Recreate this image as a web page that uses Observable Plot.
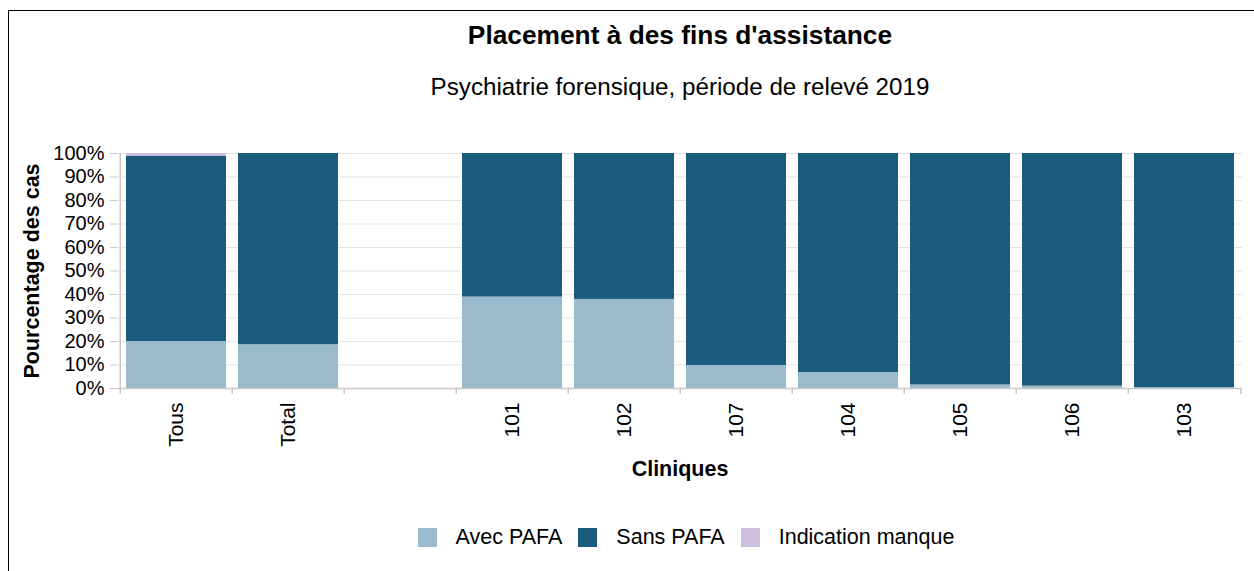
<!DOCTYPE html>
<html>
<head>
<meta charset="utf-8">
<script src="https://cdn.jsdelivr.net/npm/d3@7"></script>
<script src="https://cdn.jsdelivr.net/npm/@observablehq/plot@0.6"></script>
<style>
  html, body { margin: 0; padding: 0; background: #fff; overflow: hidden; width: 1254px; height: 571px; }
  body { font-family: "Liberation Sans", Arial, sans-serif; position: relative; }
  #frame { position: absolute; left: 8px; top: 10px; width: 1300px; height: 700px; border-left: 1px solid #000; border-top: 1px solid #000; }
  #title { position: absolute; left: 0; width: 1360px; top: 20px; text-align: center; font-size: 26.3px; font-weight: bold; color: #000; }
  #subtitle { position: absolute; left: 0; width: 1360px; top: 73px; text-align: center; font-size: 24.2px; color: #000; }
  #chart { position: absolute; left: 0; top: 140px; }
  #legend { position: absolute; left: 0; width: 1372px; top: 525px; display: flex; justify-content: center; align-items: center; font-size: 21.5px; color: #000; }
  .item { display: flex; align-items: center; margin: 0 8px; }
  .sw { width: 19px; height: 19px; margin-right: 19px; }
</style>
</head>
<body>
<div id="frame"></div>
<div id="title">Placement à des fins d'assistance</div>
<div id="subtitle">Psychiatrie forensique, période de relevé 2019</div>
<div id="chart"></div>
<div id="legend"></div>
<script>
const categories = ["Tous", "Total", " ", "101", "102", "107", "104", "105", "106", "103"];
const seriesNames = ["Avec PAFA", "Sans PAFA", "Indication manque"];
const seriesColors = ["#9bbacb", "#1b5c7e", "#cbbfdc"];
const avecPAFA = [20.0, 18.6, 0, 38.9, 37.9, 9.8, 6.8, 1.5, 1.0, 0.3];
const sansPAFA = [78.9, 81.4, 0, 61.1, 62.1, 90.2, 93.2, 98.5, 99.0, 99.7];
const indicationManque = [1.1, 0, 0, 0, 0, 0, 0, 0, 0, 0];
const yTicks = [0, 10, 20, 30, 40, 50, 60, 70, 80, 90, 100];

const seriesValues = [avecPAFA, sansPAFA, indicationManque];
const data = [];
seriesNames.forEach((s, si) => {
  categories.forEach((c, ci) => {
    data.push({clinique: c, serie: s, value: seriesValues[si][ci]});
  });
});

const width = 1254, height = 350;
const marginLeft = 117, marginRight = 12, marginTop = 13, marginBottom = 102;
const step = (width - marginLeft - marginRight) / categories.length;
const axisGray = "#c8c8c8";

const chart = Plot.plot({
  width, height, marginLeft, marginRight, marginTop, marginBottom,
  style: {fontFamily: "Liberation Sans, Arial, sans-serif", fontSize: "20px", color: "#000", background: "transparent"},
  x: {domain: categories, padding: 0, label: null},
  y: {domain: [0, 100], label: null},
  color: {domain: seriesNames, range: seriesColors},
  marks: [
    Plot.gridY(yTicks, {stroke: "#e3e3e3", strokeOpacity: 1, strokeWidth: 1}),
    Plot.barY(data, Plot.stackY({x: "clinique", y: "value", fill: "serie", order: null, insetLeft: 6, insetRight: 6})),
    Plot.ruleY([0], {stroke: axisGray, strokeWidth: 1.5}),
    Plot.ruleX([0], {x: () => categories[0], dx: -step / 2, y1: 0, y2: 100, stroke: axisGray, strokeWidth: 1.5}),
    Plot.axisY({ticks: yTicks, tickFormat: d => d + "%", tickSize: 7, tickPadding: 6, stroke: axisGray, fontSize: 20,
      label: "Pourcentage des cas", labelArrow: "none", labelAnchor: "center", labelOffset: 94}),
    Plot.ruleX(categories, {x: d => d, dx: -step / 2, y1: 0, y2: -2.6, stroke: axisGray, strokeWidth: 1.5, clip: false}),
    Plot.ruleX([categories[categories.length - 1]], {x: d => d, dx: step / 2, y1: 0, y2: -2.6, stroke: axisGray, strokeWidth: 1.5}),
    Plot.axisX({tickSize: 0, tickRotate: -90, tickPadding: 14, fontSize: 21, label: "Cliniques", labelArrow: "none", labelAnchor: "center", labelOffset: 87})
  ]
});
// style axis labels bold, drop any arrow glyphs
chart.querySelectorAll("g[aria-label='x-axis label'] text, g[aria-label='y-axis label'] text").forEach(t => {
  t.setAttribute("font-weight", "bold");
  t.setAttribute("font-size", "21.5px");
  t.textContent = t.textContent.replace(/[↑↓→←]/g, "").trim();
});
document.getElementById("chart").appendChild(chart);

const legend = document.getElementById("legend");
seriesNames.forEach((s, i) => {
  const item = document.createElement("div");
  item.className = "item";
  const sw = document.createElement("div");
  sw.className = "sw";
  sw.style.background = seriesColors[i];
  const tx = document.createElement("span");
  tx.textContent = s;
  item.appendChild(sw);
  item.appendChild(tx);
  legend.appendChild(item);
});
</script>
</body>
</html>
